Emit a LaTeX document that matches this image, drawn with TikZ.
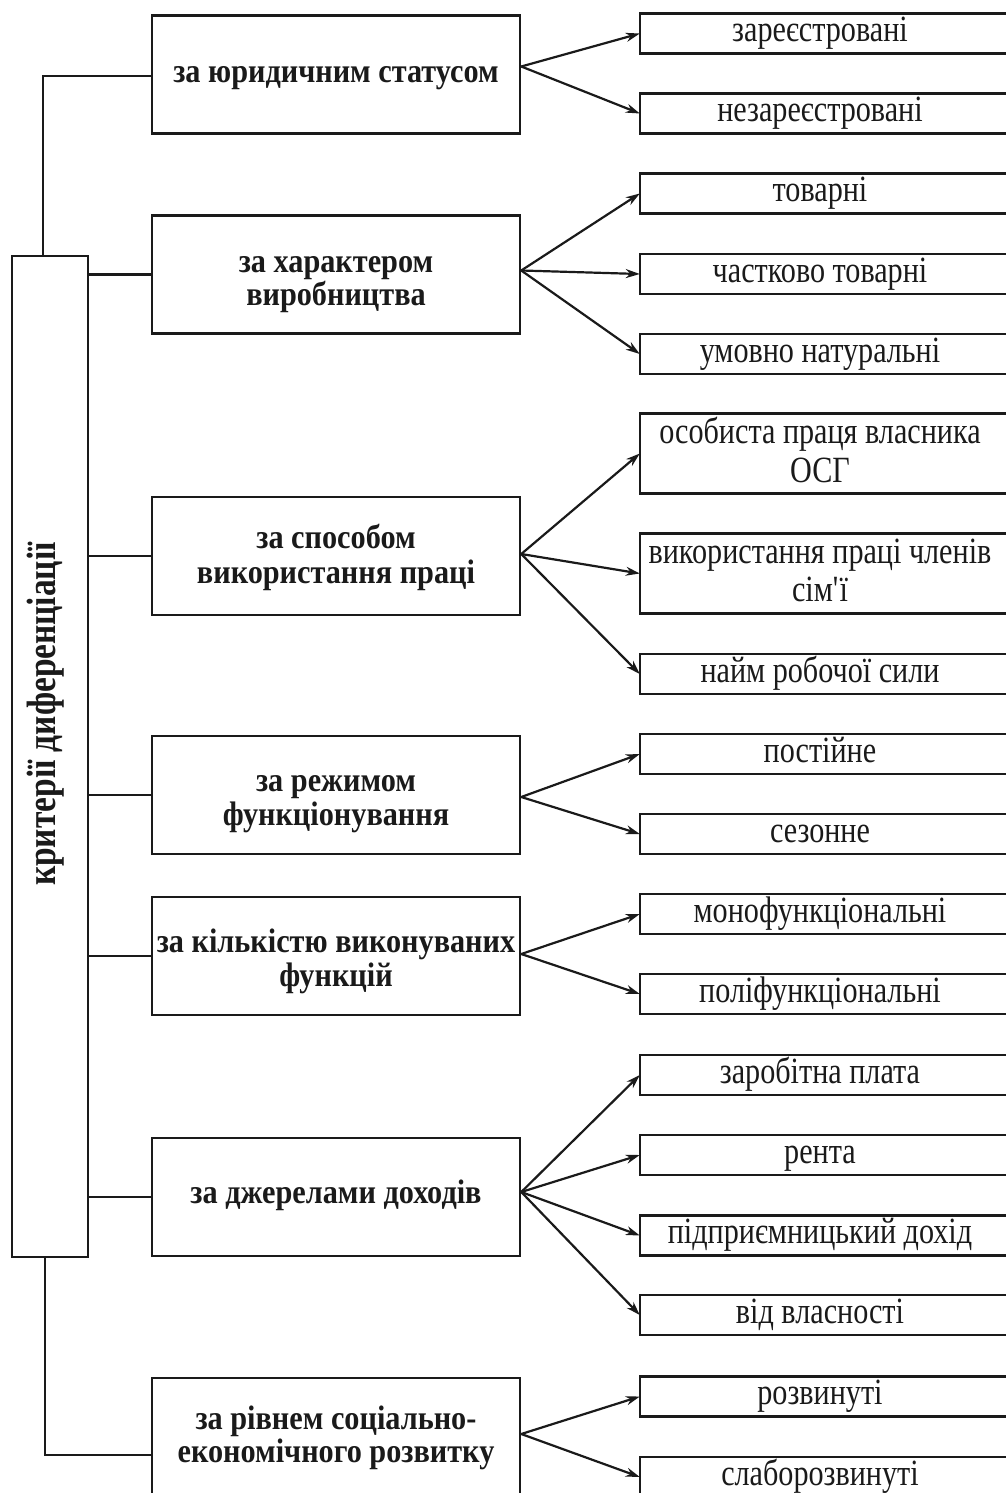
\documentclass[tikz,border=0pt]{standalone}
\usepackage{fontspec}
\setmainfont{Liberation Serif}[FakeStretch=0.815]
\newfontfamily\midfont{Liberation Serif}[FakeStretch=0.89]
\usetikzlibrary{arrows.meta}
\definecolor{ink}{HTML}{1A1A1A}
% two centred lines, reference point on the first baseline
\newcommand\dline[3]{\vtop{\baselineskip=#3\lineskiplimit=-100pt\lineskip=0pt
  \halign{\hfil##\hfil\cr #1\cr #2\cr}}}
\begin{document}
\begin{tikzpicture}[x=1pt,y=-1pt,
  boxline/.style={draw=ink, line width=2.5pt},
  tl/.style 2 args={text height=#1, text depth=#2},
  mbox/.style={boxline, minimum width=368pt, minimum height=118pt, inner sep=2pt, text=ink,
     font=\midfont\fontsize{34}{34}\selectfont\bfseries},
  rbox/.style={minimum height=40pt, minimum width=360pt, inner xsep=0pt, inner ysep=1pt, text=ink,
     font=\fontsize{37}{38}\selectfont, tl={18pt}{2pt}},
  tall/.style={minimum height=80pt, tl={10pt}{30pt}},
  link/.style={draw=ink, line width=2.2pt},
  arr/.style={link, -{Stealth[length=14pt,width=9pt]}}
]
\useasboundingbox (0,0) rectangle (1006,1493);
\fill[white] (0,0) rectangle (1006,1493);
\clip (0,0) rectangle (1006,1493);

% left box
\node[boxline, minimum width=76pt, minimum height=1001pt] (L) at (50,756.5) {};
\node[rotate=90, anchor=base, text=ink, font=\fontsize{41}{45}\selectfont\bfseries] (lbl) at (55,714) {критерії диференціації};

% middle boxes
\node[mbox, tl={28.5pt}{11.5pt}] (m1) at (336,74.5) {за юридичним статусом};
\node[mbox, tl={18pt}{22pt}] (m2) at (336,274.5) {\dline{за характером}{виробництва}{33pt}};
\node[mbox, tl={12pt}{28pt}] (m3) at (336,556) {\dline{за способом}{використання праці}{35pt}};
\node[mbox, tl={16pt}{24pt}] (m4) at (336,795) {\dline{за режимом}{функціонування}{34pt}};
\node[mbox, tl={16pt}{24pt}] (m5) at (336,956) {\dline{за кількістю виконуваних}{функцій}{34pt}};
\node[mbox, tl={26pt}{14pt}] (m6) at (336,1197) {за джерелами доходів};
\node[mbox, tl={12pt}{28pt}] (m7) at (336,1437) {\dline{за рівнем соціально-}{економічного розвитку}{33pt}};

% right boxes
\node[rbox] (r1) at (820,33.5) {зареєстровані};
\node[rbox] (r2) at (820,113.5) {незареєстровані};
\node[rbox] (r3) at (820,193.5) {товарні};
\node[rbox] (r4) at (820,274) {частково товарні};
\node[rbox] (r5) at (820,354) {умовно натуральні};
\node[rbox,tall] (r6) at (820,453.5) {\dline{особиста праця власника}{ОСГ}{39pt}};
\node[rbox,tall] (r7) at (820,573.5) {\dline{використання праці членів}{сім\textquotesingle ї}{38pt}};
\node[rbox] (r8) at (820,674) {найм робочої сили};
\node[rbox] (r9) at (820,754) {постійне};
\node[rbox] (r10) at (820,834) {сезонне};
\node[rbox] (r11) at (820,914) {монофункціональні};
\node[rbox] (r12) at (820,994) {поліфункціональні};
\node[rbox] (r13) at (820,1075) {заробітна плата};
\node[rbox] (r14) at (820,1155) {рента};
\node[rbox] (r15) at (820,1235.5) {підприємницький дохід};
\node[rbox] (r16) at (820,1315) {від власності};
\node[rbox] (r17) at (820,1396.5) {розвинуті};
\node[rbox] (r18) at (820,1477) {слаборозвинуті};
\foreach \n in {r1,r2,r3,r4,r5,r6,r7,r8,r9,r10,r11,r12,r13,r14,r15,r16,r17,r18}
  \draw[boxline] (\n.north west) rectangle ([xshift=40pt]\n.south east);

% tree connectors
\draw[link] ([xshift=-7pt]L.north) |- ([yshift=-1.5pt]m1.west);
\draw[link] ([xshift=-5pt]L.south) |- ([yshift=-18pt]m7.west);
\foreach \m in {m2,m3,m4,m5,m6}
  \draw[link] (L.east |- \m.west) -- (\m.west);

% arrows
\foreach \r in {r1,r2} \draw[arr] ([yshift=8pt]m1.east) -- (\r.west);
\foreach \r in {r3,r4,r5} \draw[arr] ([yshift=4pt]m2.east) -- (\r.west);
\foreach \r in {r6,r7,r8} \draw[arr] ([yshift=2pt]m3.east) -- (\r.west);
\foreach \r in {r9,r10} \draw[arr] ([yshift=-2pt]m4.east) -- (\r.west);
\foreach \r in {r11,r12} \draw[arr] ([yshift=2pt]m5.east) -- (\r.west);
\foreach \r in {r13,r14,r15,r16} \draw[arr] ([yshift=5pt]m6.east) -- (\r.west);
\foreach \r in {r17,r18} \draw[arr] ([yshift=3pt]m7.east) -- (\r.west);
\end{tikzpicture}
\end{document}
